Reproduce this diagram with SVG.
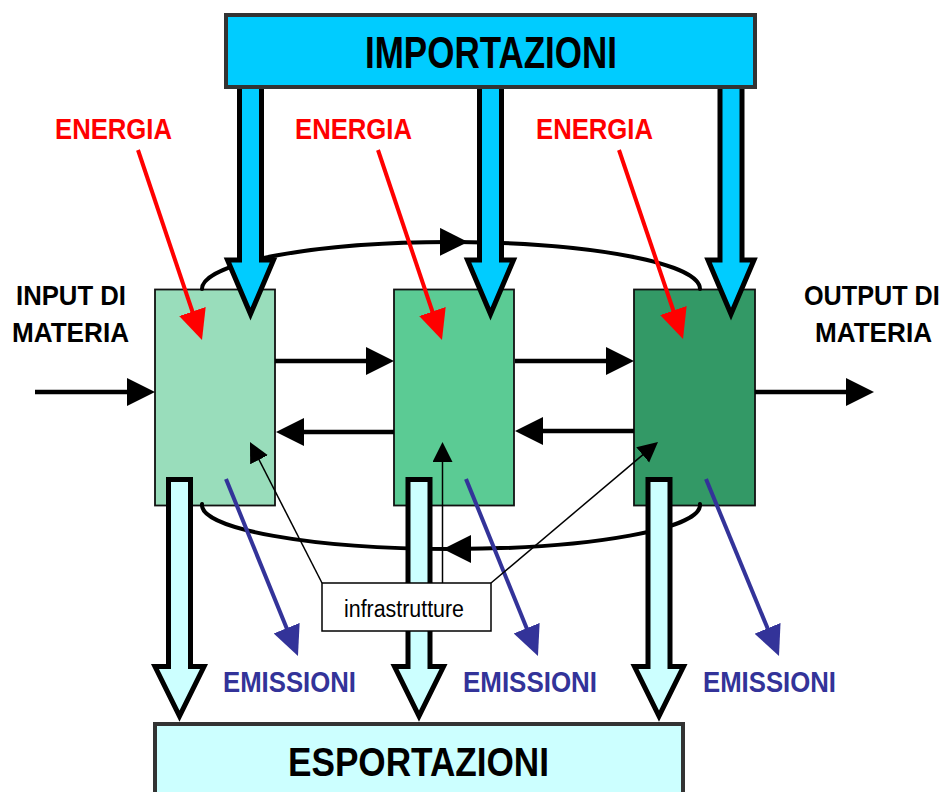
<svg xmlns="http://www.w3.org/2000/svg" width="948" height="792" viewBox="0 0 948 792">
<style>
.lbl{font-family:"Liberation Sans",Arial,sans-serif;font-weight:bold}
.proc{stroke:#111;stroke-width:1.8}
.imp{fill:#00CCFF;stroke:#000;stroke-width:5;stroke-linejoin:miter}
.exp{fill:#CCFFFF;stroke:#000;stroke-width:5;stroke-linejoin:miter}
.big{stroke:#333;stroke-width:4}
.flow{fill:none;stroke:#000;stroke-width:4.5}
.loop{fill:none;stroke:#000;stroke-width:4;stroke-linecap:round}
.red{fill:none;stroke:#FF0000;stroke-width:4}
.blue{fill:none;stroke:#333399;stroke-width:4}
.thin{fill:none;stroke:#000;stroke-width:1.5}
</style>
<defs>
<marker id="hBlack" markerUnits="userSpaceOnUse" markerWidth="30" markerHeight="30" refX="18" refY="14" orient="auto"><path d="M0,0 L28,14 L0,28 Z" fill="#000"/></marker>
<marker id="hRed" markerUnits="userSpaceOnUse" markerWidth="32" markerHeight="30" refX="20" refY="14" orient="auto"><path d="M0,0 L30,14 L0,28 Z" fill="#FF0000"/></marker>
<marker id="hBlue" markerUnits="userSpaceOnUse" markerWidth="32" markerHeight="30" refX="20" refY="14" orient="auto"><path d="M0,0 L30,14 L0,28 Z" fill="#333399"/></marker>
<marker id="hThin" markerUnits="userSpaceOnUse" markerWidth="22" markerHeight="22" refX="14" refY="10" orient="auto"><path d="M0,0 L20,10 L0,20 Z" fill="#000"/></marker>
</defs>
<rect width="948" height="792" fill="#fff"/>

<g id="process1"><rect class="proc" x="155" y="289.5" width="120" height="216" fill="#99DDBB"/></g>
<g id="process2"><rect class="proc" x="394" y="289.5" width="120" height="216" fill="#5BCB94"/></g>
<g id="process3"><rect class="proc" x="634" y="289.5" width="121" height="216" fill="#339966"/></g>

<g id="connectors">
<path class="loop" d="M202,289 A249,47 0 0 1 458,242" marker-end="url(#hBlack)"/>
<path class="loop" d="M458,242 A249,47 0 0 1 700,289"/>
<path class="loop" d="M700,504 A249,44 0 0 1 453,549" marker-end="url(#hBlack)"/>
<path class="loop" d="M453,549 A249,44 0 0 1 202,504"/>
<path class="flow" d="M35,392 H145" marker-end="url(#hBlack)"/>
<path class="flow" d="M275,361 H384" marker-end="url(#hBlack)"/>
<path class="flow" d="M515,361 H624" marker-end="url(#hBlack)"/>
<path class="flow" d="M394,432 H286" marker-end="url(#hBlack)"/>
<path class="flow" d="M634,431 H525" marker-end="url(#hBlack)"/>
<path class="flow" d="M755,392 H864" marker-end="url(#hBlack)"/>
<path class="red" d="M138,150 L198.8,330.5" marker-end="url(#hRed)"/>
<path class="red" d="M378,150 L438.8,330.5" marker-end="url(#hRed)"/>
<path class="red" d="M619,150 L679.8,329.5" marker-end="url(#hRed)"/>
<path class="blue" d="M226,479 L294.2,646.7" marker-end="url(#hBlue)"/>
<path class="blue" d="M466,479 L534.2,646.7" marker-end="url(#hBlue)"/>
<path class="blue" d="M706,479 L775.2,646.8" marker-end="url(#hBlue)"/>
<path class="imp" d="M239.5,80 V260 H227.5 L250.5,314 L273.5,260 H261.5 V80 Z"/>
<path class="imp" d="M479.5,80 V260 H467.5 L490.5,314 L513.5,260 H501.5 V80 Z"/>
<path class="imp" d="M720,80 V260 H708 L731,314 L754,260 H742 V80 Z"/>
<path class="exp" d="M168.5,479.5 V666.5 H155 L179.5,716 L204,666.5 H190.5 V479.5 Z"/>
<path class="exp" d="M408,479.5 V666.5 H394.5 L419,716 L443.5,666.5 H430 V479.5 Z"/>
<path class="exp" d="M648,479.5 V666.5 H634.5 L659,716 L683.5,666.5 H670 V479.5 Z"/>
<path class="thin" d="M322,583 L252.7,447.3" marker-end="url(#hThin)"/>
<path class="thin" d="M442.5,583 V448" marker-end="url(#hThin)"/>
<path class="thin" d="M491,583 L653.4,445.9" marker-end="url(#hThin)"/>
</g>

<g id="infrastrutture">
<rect x="322" y="583" width="169" height="48" fill="#fff" stroke="#000" stroke-width="1.5"/>
<text x="344" y="617" font-family="Liberation Sans, Arial, sans-serif" font-size="23" textLength="120" lengthAdjust="spacingAndGlyphs" fill="#000">infrastrutture</text>
</g>

<g id="importazioni">
<rect class="big" x="226" y="15" width="529" height="72" fill="#00CCFF"/>
<text class="lbl" x="365" y="68" font-size="44" textLength="252" lengthAdjust="spacingAndGlyphs" fill="#000">IMPORTAZIONI</text>
</g>
<g id="esportazioni">
<rect class="big" x="155" y="724" width="528" height="80" fill="#CCFFFF"/>
<text class="lbl" x="288" y="776" font-size="41" textLength="261" lengthAdjust="spacingAndGlyphs" fill="#000">ESPORTAZIONI</text>
</g>

<g id="energia">
<text class="lbl" x="55" y="139" font-size="29" textLength="117" lengthAdjust="spacingAndGlyphs" fill="#FF0000">ENERGIA</text>
<text class="lbl" x="295" y="139" font-size="29" textLength="117" lengthAdjust="spacingAndGlyphs" fill="#FF0000">ENERGIA</text>
<text class="lbl" x="536" y="139" font-size="29" textLength="117" lengthAdjust="spacingAndGlyphs" fill="#FF0000">ENERGIA</text>
</g>
<g id="emissioni">
<text class="lbl" x="223" y="692" font-size="29" textLength="133" lengthAdjust="spacingAndGlyphs" fill="#333399">EMISSIONI</text>
<text class="lbl" x="463" y="692" font-size="29" textLength="134" lengthAdjust="spacingAndGlyphs" fill="#333399">EMISSIONI</text>
<text class="lbl" x="703" y="692" font-size="29" textLength="133" lengthAdjust="spacingAndGlyphs" fill="#333399">EMISSIONI</text>
</g>
<g id="input">
<text class="lbl" x="16" y="305" font-size="28" textLength="110" lengthAdjust="spacingAndGlyphs" fill="#000">INPUT DI</text>
<text class="lbl" x="12" y="342" font-size="28" textLength="117" lengthAdjust="spacingAndGlyphs" fill="#000">MATERIA</text>
</g>
<g id="output">
<text class="lbl" x="0" y="0" font-size="28" transform="translate(804,305) scale(0.9,1)" fill="#000">OUTPUT DI</text>
<text class="lbl" x="815" y="342" font-size="28" textLength="117" lengthAdjust="spacingAndGlyphs" fill="#000">MATERIA</text>
</g>
</svg>
